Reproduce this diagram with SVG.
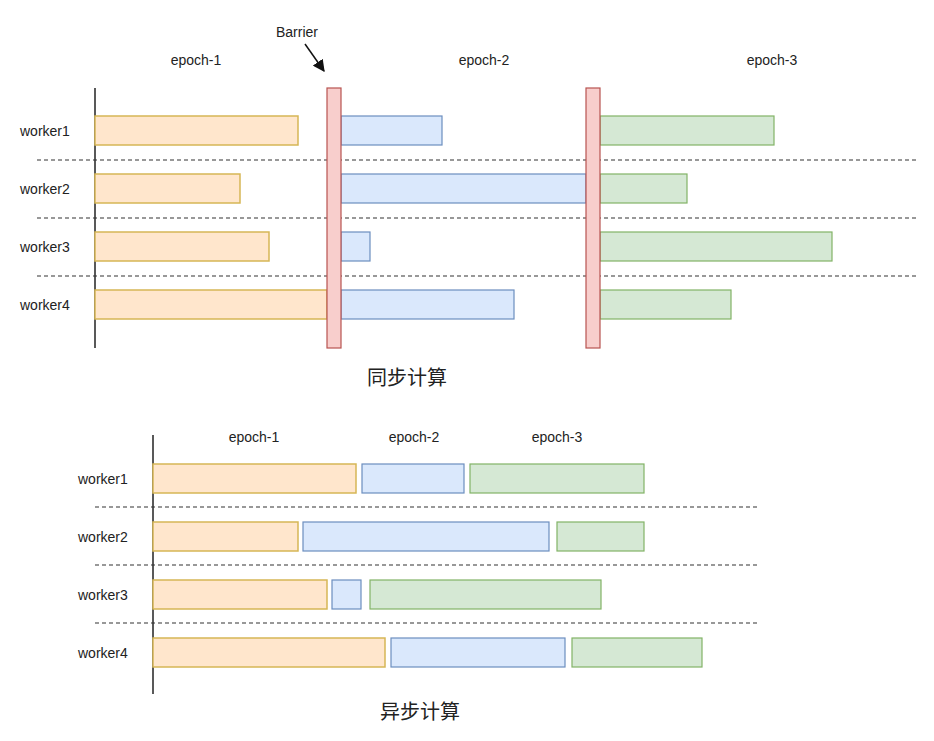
<svg xmlns="http://www.w3.org/2000/svg" width="934" height="741" viewBox="0 0 934 741">
<defs>
<style>
text{font-family:"Liberation Sans",Arial,sans-serif;font-size:14px;fill:#222}
.t{font-family:"Noto Sans CJK SC",sans-serif;font-size:20px;text-anchor:middle}
.c{text-anchor:middle}
.o{fill:#ffe6cc;stroke:#d6b656;stroke-width:1.5}
.b{fill:#dae8fc;stroke:#6c8ebf;stroke-width:1.2}
.g{fill:#d5e8d4;stroke:#82b366;stroke-width:1.2}
.r{fill:#f8cecc;stroke:#b85450;stroke-width:1.2}
.d{stroke:#333;stroke-dasharray:4 3;stroke-width:1.2}
.ax{stroke:#222;stroke-width:1.5}
</style>
<marker id="ah" viewBox="0 0 10 10" refX="9" refY="5" markerWidth="8" markerHeight="8" orient="auto"><path d="M0,0L10,5L0,10z" fill="#111"/></marker>
</defs>
<rect width="934" height="741" fill="#fff"/>
<g id="connectors">
<line class="ax" x1="95" y1="88" x2="95" y2="348"/>
<line class="d" x1="37" y1="160" x2="918" y2="160"/>
<line class="d" x1="37" y1="218" x2="918" y2="218"/>
<line class="d" x1="37" y1="276" x2="918" y2="276"/>
<line x1="305" y1="44" x2="324" y2="71" stroke="#111" stroke-width="1.5" marker-end="url(#ah)"/>
<line class="ax" x1="153" y1="435" x2="153" y2="694"/>
<line class="d" x1="95" y1="507" x2="760" y2="507"/>
<line class="d" x1="95" y1="565" x2="760" y2="565"/>
<line class="d" x1="95" y1="623" x2="760" y2="623"/>
</g>
<g id="sync">
<text class="c" x="196" y="65">epoch-1</text>
<text class="c" x="484" y="65">epoch-2</text>
<text class="c" x="772" y="65">epoch-3</text>
<text class="c" x="297" y="37">Barrier</text>
<text x="20" y="136">worker1</text>
<text x="20" y="194">worker2</text>
<text x="20" y="252">worker3</text>
<text x="20" y="310">worker4</text>
<rect class="o" x="95" y="116" width="203" height="29"/>
<rect class="o" x="95" y="174" width="145" height="29"/>
<rect class="o" x="95" y="232" width="174" height="29"/>
<rect class="o" x="95" y="290" width="232" height="29"/>
<rect class="b" x="341" y="116" width="101" height="29"/>
<rect class="b" x="341" y="174" width="245" height="29"/>
<rect class="b" x="341" y="232" width="29" height="29"/>
<rect class="b" x="341" y="290" width="173" height="29"/>
<rect class="g" x="600" y="116" width="174" height="29"/>
<rect class="g" x="600" y="174" width="87" height="29"/>
<rect class="g" x="600" y="232" width="232" height="29"/>
<rect class="g" x="600" y="290" width="131" height="29"/>
<rect id="barrier1" class="r" x="327" y="88" width="14" height="260"/>
<rect id="barrier2" class="r" x="586" y="88" width="14" height="260"/>
<text class="t" x="407" y="385">同步计算</text>
</g>
<g id="async">
<text class="c" x="254" y="442">epoch-1</text>
<text class="c" x="414" y="442">epoch-2</text>
<text class="c" x="557" y="442">epoch-3</text>
<text x="78" y="484">worker1</text>
<text x="78" y="542">worker2</text>
<text x="78" y="600">worker3</text>
<text x="78" y="658">worker4</text>
<rect class="o" x="153" y="464" width="203" height="29"/>
<rect class="o" x="153" y="522" width="145" height="29"/>
<rect class="o" x="153" y="580" width="174" height="29"/>
<rect class="o" x="153" y="638" width="232" height="29"/>
<rect class="b" x="362" y="464" width="102" height="29"/>
<rect class="b" x="303" y="522" width="246" height="29"/>
<rect class="b" x="332" y="580" width="29" height="29"/>
<rect class="b" x="391" y="638" width="174" height="29"/>
<rect class="g" x="470" y="464" width="174" height="29"/>
<rect class="g" x="557" y="522" width="87" height="29"/>
<rect class="g" x="370" y="580" width="231" height="29"/>
<rect class="g" x="572" y="638" width="130" height="29"/>
<text class="t" x="420" y="719">异步计算</text>
</g>
</svg>
